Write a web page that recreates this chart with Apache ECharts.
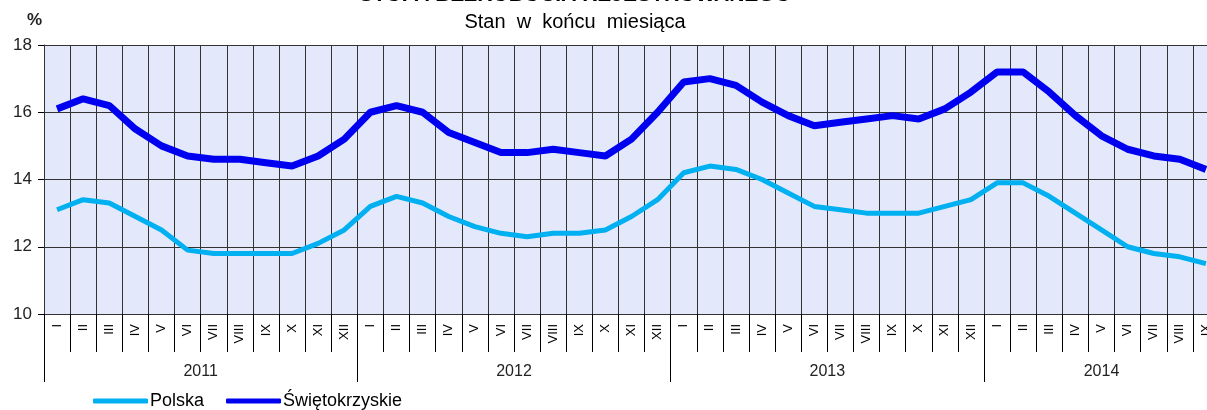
<!DOCTYPE html>
<html>
<head>
<meta charset="utf-8">
<script src="https://cdn.jsdelivr.net/npm/echarts@6/dist/echarts.min.js"></script>
<style>
  html, body { margin: 0; padding: 0; background: #fff; }
  #chart { width: 1207px; height: 410px; }
</style>
</head>
<body>
<div id="chart"></div>
<script>
// miesiace (2014 tylko do IX)
var monthNames = ["I", "II", "III", "IV", "V", "VI", "VII", "VIII", "IX", "X", "XI", "XII"];
var years = ["2011", "2012", "2013", "2014"];
var monthsInYear = [12, 12, 12, 9];

var polska = [
  13.1, 13.4, 13.3, 12.9, 12.5, 11.9, 11.8, 11.8, 11.8, 11.8, 12.1, 12.5,
  13.2, 13.5, 13.3, 12.9, 12.6, 12.4, 12.3, 12.4, 12.4, 12.5, 12.9, 13.4,
  14.2, 14.4, 14.3, 14.0, 13.6, 13.2, 13.1, 13.0, 13.0, 13.0, 13.2, 13.4,
  13.9, 13.9, 13.5, 13.0, 12.5, 12.0, 11.8, 11.7, 11.5
];
var swietokrzyskie = [
  16.1, 16.4, 16.2, 15.5, 15.0, 14.7, 14.6, 14.6, 14.5, 14.4, 14.7, 15.2,
  16.0, 16.2, 16.0, 15.4, 15.1, 14.8, 14.8, 14.9, 14.8, 14.7, 15.2, 16.0,
  16.9, 17.0, 16.8, 16.3, 15.9, 15.6, 15.7, 15.8, 15.9, 15.8, 16.1, 16.6,
  17.2, 17.2, 16.6, 15.9, 15.3, 14.9, 14.7, 14.6, 14.3
];

// kategorie osi X
var categories = [];
var yearStart = [];   // granice lat (w jednostkach miesiecy)
var yearMid = [];     // srodki lat - tu ida podpisy
var pos = 0;
monthsInYear.forEach(function (n) {
  yearStart.push(pos);
  yearMid.push(pos + n / 2);
  for (var i = 0; i < n; i++) categories.push(monthNames[i]);
  pos += n;
});

var gridColor = "#333333";

var myChart = echarts.init(document.getElementById("chart"));
var option = {
  backgroundColor: "#ffffff",
  animation: false,
  title: [
    {
      text: "STOPA BEZROBOCIA REJESTROWANEGO",
      left: 570,
      top: -20,
      textAlign: "center",
      textStyle: { fontFamily: "Liberation Sans", fontSize: 21, fontWeight: "bold", color: "#000" }
    },
    {
      text: "Stan  w  końcu  miesiąca",
      left: 570,
      top: 7,
      textAlign: "center",
      textStyle: { fontFamily: "Liberation Sans", fontSize: 20, fontWeight: "normal", color: "#000" }
    }
  ],
  legend: {
    left: 88,
    top: 387,
    itemWidth: 55,
    itemHeight: 5,
    itemGap: 22,
    icon: "roundRect",
    data: ["Polska", "Świętokrzyskie"],
    textStyle: { fontFamily: "Liberation Sans", fontSize: 18, color: "#000", padding: [0, 0, 0, -3] }
  },
  grid: {
    left: 44,
    top: 45,
    bottom: 96,
    width: 1175, // wykres przyciety z prawej (IX 2014 wychodzi poza kadr)
    outerBoundsMode: "none",
    show: true,
    backgroundColor: "#e3e8fa",
    borderWidth: 0
  },
  xAxis: [
    {
      type: "category",
      data: categories,
      boundaryGap: true,
      position: "bottom",
      axisLine: { show: true, lineStyle: { color: gridColor, width: 1 } },
      axisTick: { show: true, interval: 0, length: 38, lineStyle: { color: "#000", width: 1 } },
      splitLine: { show: true, interval: 0, lineStyle: { color: gridColor, width: 1 } },
      axisLabel: {
        interval: 0,
        rotate: 90,
        margin: 10,
        fontFamily: "Liberation Sans",
        fontSize: 13,
        color: "#000"
      }
    },
    {
      type: "value",
      min: 0,
      max: categories.length,
      position: "bottom",
      axisLine: { show: false },
      splitLine: { show: false },
      axisTick: {
        show: true,
        customValues: yearStart,
        length: 68,
        lineStyle: { color: "#000", width: 1 }
      },
      axisLabel: {
        customValues: yearMid,
        margin: 50,
        fontFamily: "Liberation Sans",
        fontSize: 16,
        color: "#222",
        formatter: function (val) {
          var idx = yearMid.indexOf(val);
          return idx >= 0 ? years[idx] : "";
        }
      }
    }
  ],
  yAxis: {
    type: "value",
    min: 10,
    max: 18,
    interval: 2,
    name: "%",
    nameLocation: "end",
    nameGap: 16,
    nameTextStyle: {
      fontFamily: "Liberation Sans",
      fontSize: 17,
      fontWeight: "bold",
      color: "#222",
      align: "right",
      padding: [0, 2, 0, 0]
    },
    axisLine: { show: true, lineStyle: { color: gridColor } },
    axisTick: { show: true, length: 6, lineStyle: { color: "#000" } },
    splitLine: { show: true, lineStyle: { color: gridColor, width: 1 } },
    axisLabel: {
      margin: 12,
      fontFamily: "Liberation Sans",
      fontSize: 17,
      color: "#222"
    }
  },
  series: [
    {
      name: "Polska",
      type: "line",
      data: polska,
      symbol: "none",
      smooth: false,
      itemStyle: { color: "#00b0f0" },
      lineStyle: { color: "#00b0f0", width: 5 }
    },
    {
      name: "Świętokrzyskie",
      type: "line",
      data: swietokrzyskie,
      symbol: "none",
      smooth: false,
      itemStyle: { color: "#0000f0" },
      lineStyle: { color: "#0000f0", width: 7 }
    }
  ]
};
myChart.setOption(option);
</script>
</body>
</html>
